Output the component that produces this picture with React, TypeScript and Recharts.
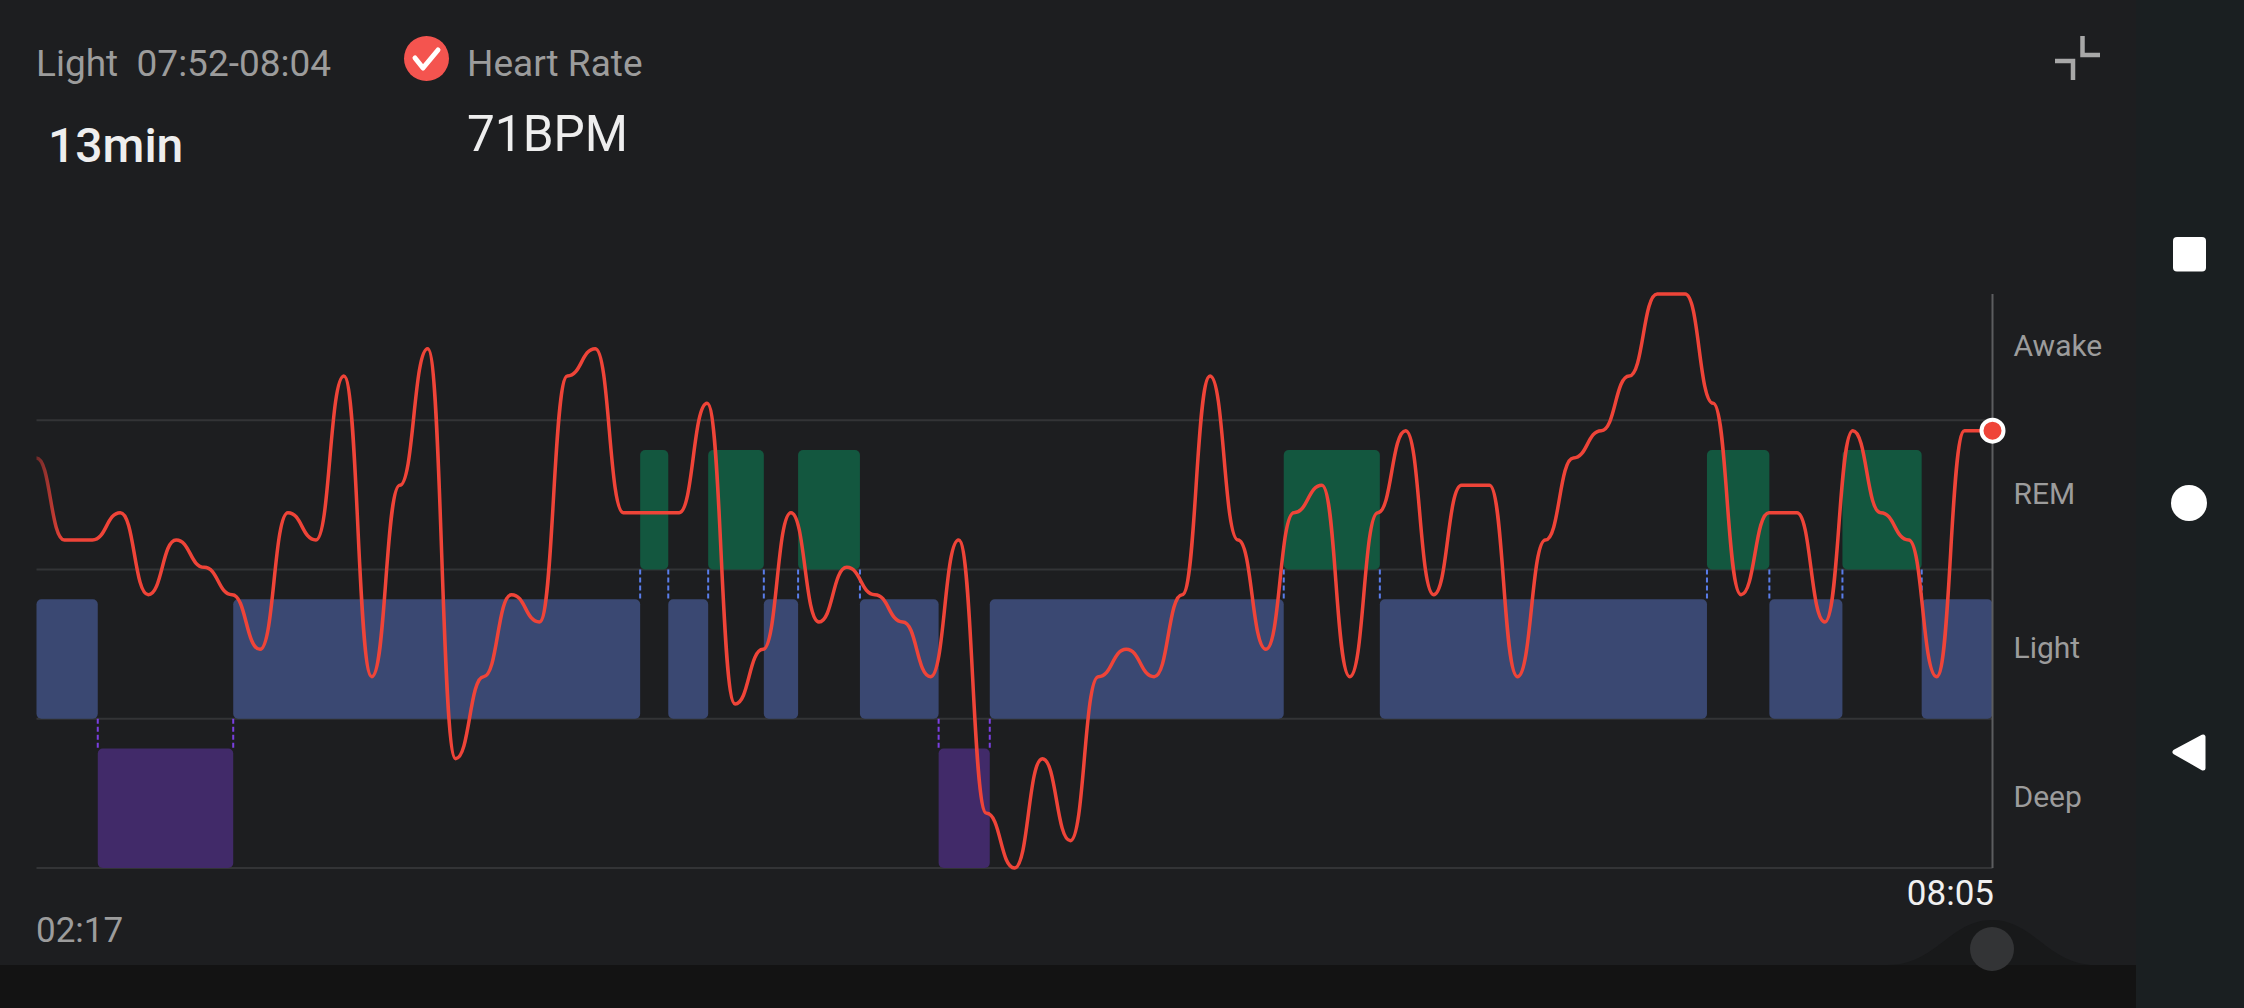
import { CartesianGrid, ComposedChart, Line, ReferenceArea, ReferenceLine, XAxis, YAxis } from "recharts";

// heart rate samples, evenly spaced from 02:17 to 08:05
const heartRate = [
  70, 67, 67, 68, 65, 67, 66, 65, 63, 68, 67, 73, 62, 69, 74, 59, 62, 65, 64, 73, 74, 68, 68, 68,
  72, 61, 63, 68, 64, 66, 65, 64, 62, 67, 57, 55, 59, 56, 62, 63, 62, 65, 73, 67, 63, 68, 69, 62,
  68, 71, 65, 69, 69, 62, 67, 70, 71, 73, 76, 76, 72, 65, 68, 68, 64, 71, 68, 67, 62, 71, 71,
];
const totalMinutes = 348;

// sleep stages: 0 deep, 1 light, 2 rem, 3 awake
const stageNames = ["Deep", "Light", "REM", "Awake"];
const stageTicks = [0.48, 1.48, 2.51, 3.5];
const stageLines = [0, 1, 2, 3];
const segmentStage = [1, 0, 1, 2, 1, 2, 1, 2, 1, 0, 1, 2, 1, 2, 1, 2, 1];
// minutes after 02:17 where each segment ends
const segmentEnd = [
  10.9, 35, 107.4, 112.4, 119.5, 129.4, 135.5, 146.5, 160.5, 169.6, 221.9, 239, 297.2, 308.3, 321.3, 335.4, 348,
];
const stageColors = ["#412a69", "#3a4872", "#13573f", "#13573f"];

const lastIndex = heartRate.length - 1;
const chartData = heartRate.map((bpm, i) => ({ minute: (i * totalMinutes) / lastIndex, bpm }));

const EndDot = (props: any) => {
  if (props.index !== lastIndex) return <g key={props.index} />;
  return <circle key={props.index} cx={props.cx} cy={props.cy} r={11} fill="#ef4438" stroke="#fff" strokeWidth={4} />;
};

const Backdrop = () => (
  <svg width={2244} height={1008} style={{ position: "absolute", left: 0, top: 0 }}>
    <rect width={2244} height={1008} fill="#1d1e20" />
    <rect x={2136} width={108} height={1008} fill="#1a1f21" />
    <rect y={965} width={2136} height={43} fill="#131313" />
    <path d="M1888 965 C1936 965 1950 920 1992 920 C2034 920 2048 965 2096 965 Z" fill="#18191a" />
    <circle cx={1992} cy={949} r={22} fill="#333436" />

    <g fontFamily="Roboto" fontSize={37} fill="#9c9c9c">
      <text x={36} y={76} xmlSpace="preserve">Light  07:52-08:04</text>
      <text x={467} y={76}>Heart Rate</text>
    </g>
    <text x={48} y={162} fontFamily="Roboto" fontSize={48} fontWeight={500} fill="#eeeeee">13min</text>
    <text x={467} y={151} fontFamily="Roboto" fontSize={49.5} fill="#eeeeee">71BPM</text>
    <text x={36} y={942} fontFamily="Roboto" fontSize={35} fill="#9c9c9c">02:17</text>
    <text x={1994} y={905} textAnchor="end" fontFamily="Roboto" fontSize={35} fill="#f0f0f0">08:05</text>

    <circle cx={426.5} cy={58.5} r={22.5} fill="#f4544f" />
    <path d="M415 58 L423 68 L438 50" fill="none" stroke="#fff" strokeWidth={5} strokeLinecap="round" strokeLinejoin="round" />
    <path d="M2082.5 36 V55 H2100 M2055 61 H2073 V80" fill="none" stroke="#a8a8a8" strokeWidth={4.5} />

    <rect x={2173} y={237} width={33} height={34.5} rx={4} fill="#fff" />
    <circle cx={2189} cy={503} r={18} fill="#fff" />
    <path d="M2175 752 L2203 737 V768 Z" fill="#fff" stroke="#fff" strokeWidth={5} strokeLinejoin="round" />
  </svg>
);

const App = () => {
  return (
    <div style={{ position: "absolute", left: 0, top: 0, width: 2244, height: 1008, overflow: "hidden" }}>
      <Backdrop />
      <div style={{ position: "absolute", left: 0, top: 0 }}>
        <ComposedChart
          width={2244}
          height={1008}
          data={chartData}
          margin={{ top: 294, right: 131.5, bottom: 140, left: 36.5 }}
        >
          <defs>
            <linearGradient id="hrFade" x1="0" y1="0" x2="1" y2="0">
              <stop offset="0" stopColor="#6e2a29" />
              <stop offset="0.014" stopColor="#ef4438" />
            </linearGradient>
          </defs>
          <XAxis type="number" dataKey="minute" domain={[0, totalMinutes]} hide />
          <YAxis yAxisId="bpm" type="number" domain={[55, 76]} hide />
          <YAxis
            yAxisId="stage"
            type="number"
            orientation="right"
            width={120}
            domain={[0, 3.846]}
            allowDataOverflow
            ticks={stageTicks}
            interval={0}
            tickFormatter={(_v: number, i: number) => stageNames[i]}
            tickLine={false}
            tickSize={0}
            tickMargin={21}
            axisLine={{ stroke: "#5c5d5f", strokeWidth: 2 }}
            tick={{ fill: "#9c9c9c", fontSize: 30, fontFamily: "Roboto", textAnchor: "start" }}
          />
          <CartesianGrid
            yAxisId="stage"
            vertical={false}
            horizontalValues={stageLines}
            stroke="#333436"
            strokeWidth={2}
          />

          {segmentStage.map((stage, i) => (
            <ReferenceArea
              key={i}
              yAxisId="stage"
              x1={i === 0 ? 0 : segmentEnd[i - 1]}
              x2={segmentEnd[i]}
              y1={stage}
              y2={stage + 0.8}
              fill={stageColors[stage]}
              fillOpacity={1}
              stroke="none"
              radius={5}
            />
          ))}

          {segmentEnd.slice(0, -1).map((x, i) => {
            const upper = Math.max(segmentStage[i], segmentStage[i + 1]);
            return (
              <ReferenceLine
                key={i}
                yAxisId="stage"
                segment={[
                  { x, y: upper },
                  { x, y: upper - 0.2 },
                ]}
                stroke={upper === 1 ? "#7a3fe0" : "#5a7dea"}
                strokeWidth={2}
                strokeDasharray="5 3"
              />
            );
          })}

          <Line
            yAxisId="bpm"
            type="bumpX"
            dataKey="bpm"
            stroke="url(#hrFade)"
            strokeWidth={3.5}
            dot={EndDot}
            activeDot={false}
            isAnimationActive={false}
          />
        </ComposedChart>
      </div>
    </div>
  );
};

export default App;
